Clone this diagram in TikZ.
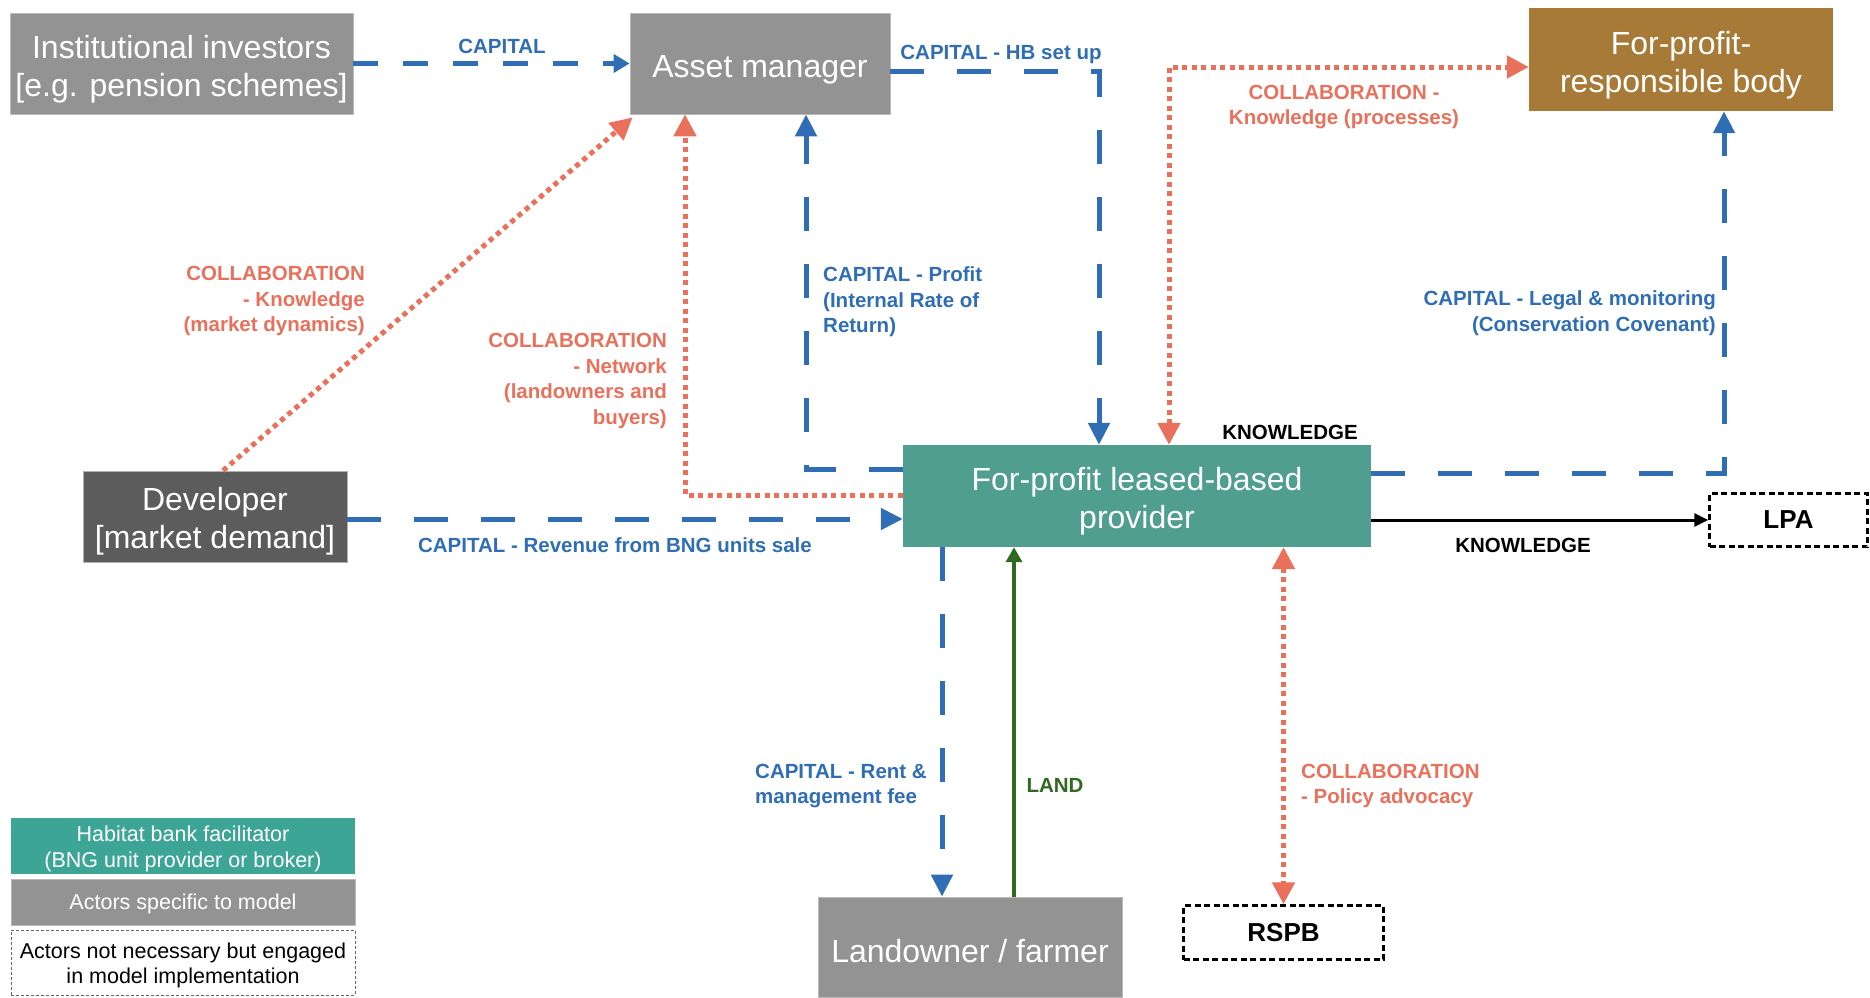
\documentclass[tikz,border=0pt]{standalone}
\usepackage{fontspec}
\setmainfont{Liberation Sans}
\usetikzlibrary{arrows.meta,calc}
\definecolor{cblue}{HTML}{2F6EB5}
\definecolor{cred}{HTML}{E9705A}
\definecolor{cgreen}{HTML}{2E6B20}
\definecolor{cgrey}{HTML}{939393}
\definecolor{cdark}{HTML}{5C5C5C}
\definecolor{cteal}{HTML}{4F9E90}
\definecolor{ctealb}{HTML}{3DA595}
\definecolor{cbrown}{HTML}{A77A37}
\newcommand\myboxfont{\fontsize{32}{38}\selectfont}
\newcommand\mylabfont{\fontsize{20.5}{25.5}\selectfont\bfseries}
\newcommand\mylegfont{\fontsize{21.5}{25.5}\selectfont}
\tikzset{
  box/.style={rectangle, inner sep=0pt},
  boxtxt/.style={inner sep=0pt, align=center, text=white, font=\myboxfont},
  legtxt/.style={inner sep=0pt, align=center, text=white, font=\mylegfont},
  greybox/.style={box, fill=cgrey, draw=gray!55, line width=0.8pt},
  dotbox/.style={rectangle, inner sep=0pt, align=center, text=black, font=\fontsize{26}{30}\selectfont\bfseries,
    draw=black, line width=2.5pt, dash pattern=on 6pt off 3.5pt},
  lab/.style={inner sep=0pt, font=\mylabfont},
  bdash/.style={draw=cblue, line width=5pt, dash pattern=on 34pt off 33pt, line join=miter},
  bdashs/.style={draw=cblue, line width=5pt, dash pattern=on 25pt off 25pt},
  rdot/.style={draw=cred, line width=5pt, dash pattern=on 5pt off 4.5pt},
  btip/.style={-{Triangle[width=21pt,length=22pt]}},
  bstip/.style={-{Triangle[width=18pt,length=16pt]}},
  rtip/.style={-{Triangle[width=22pt,length=22pt]}},
  rtips/.style={{Triangle[width=22pt,length=22pt]}-{Triangle[width=22pt,length=22pt]}},
  kline/.style={draw=black, line width=3pt, -{Triangle[width=13pt,length=14pt]}},
  gline/.style={draw=cgreen, line width=3.5pt, -{Triangle[width=16pt,length=15pt]}},
}
\begin{document}
\begin{tikzpicture}[x=1pt,y=-1pt]
\useasboundingbox (0,0) rectangle (1870,997);
% boxes
\node[greybox, minimum width=343pt, minimum height=101pt] (inst) at (181.5,63.5) {};
\node[boxtxt] (inst-t) at ($(inst.center)+(0,6)$) {Institutional investors\\{[e.g. pension schemes]}};
\node[greybox, minimum width=260pt, minimum height=101pt] (asset) at (760,63.5) {};
\node[boxtxt] (asset-t) at ($(asset.center)+(0,6)$) {Asset manager};
\node[box, fill=cbrown, minimum width=304pt, minimum height=103pt] (body) at (1681,59.5) {};
\node[boxtxt] (body-t) at ($(body.center)+(0,6)$) {For-profit-\\responsible body};
\node[box, fill=cdark, draw=gray!60, line width=0.8pt, minimum width=264pt, minimum height=91pt] (dev) at (215,516.5) {};
\node[boxtxt] (dev-t) at ($(dev.center)+(0,5)$) {Developer\\{[market demand]}};
\node[box, fill=cteal, minimum width=468pt, minimum height=102pt] (prov) at (1137,496) {};
\node[boxtxt] (prov-t) at ($(prov.center)+(0,5)$) {For-profit leased-based\\provider};
\node[dotbox, minimum width=158pt, minimum height=53pt] (lpa) at (1788.5,520) {LPA};
\node[greybox, minimum width=304pt, minimum height=100pt] (land) at (970,947) {};
\node[boxtxt] (land-t) at ($(land.center)+(0,4)$) {Landowner / farmer};
\node[dotbox, minimum width=200pt, minimum height=54pt] (rspb) at (1283.5,932.5) {RSPB};
% legend
\node[box, fill=ctealb, minimum width=344pt, minimum height=56pt] (leg1) at (183,846) {};
\node[legtxt] (leg1-t) at ($(leg1.center)+(0,3)$) {Habitat bank facilitator\\(BNG unit provider or broker)};
\node[greybox, minimum width=344pt, minimum height=46pt] (leg2) at (183,902) {};
\node[legtxt] (leg2-t) at ($(leg2.center)+(0,2)$) {Actors specific to model};
\node[box, draw=gray!80!black, line width=0.8pt, dash pattern=on 3pt off 2pt, minimum width=344pt, minimum height=65pt] (leg3) at (183,962.5) {};
\node[legtxt, text=black] (leg3-t) at ($(leg3.center)+(0,3)$) {Actors not necessary but engaged\\in model implementation};
% coordinates
\coordinate (hb) at (1099,71);
\coordinate (pf) at (806,469);
\coordinate (nw) at (685,495);
\coordinate (dv) at (0,519);
\coordinate (kc) at (1169,67);
\coordinate (lg) at (1724,473);
\coordinate (rt) at (942,0);
\coordinate (ld) at (1014,0);
% connectors
\draw[bdashs, bstip] (inst.east) -- (asset.west);
\draw[bdash, btip] (asset.east |- hb) -- (hb) -- (hb |- prov.north);
\draw[bdash, btip] (prov.west |- pf) -- (pf) -- (pf |- asset.south);
\draw[rdot, rtip] (prov.west |- nw) -- (nw) -- (nw |- asset.south);
\draw[rdot, rtip] ($(dev.north)+(8,0)$) -- ($(asset.south west)+(3,3)$);
\draw[bdash, btip] (dev.east |- dv) -- (prov.west |- dv);
\draw[rdot, rtips] (prov.north -| kc) -- (kc) -- (kc -| body.west);
\draw[bdash, btip] (prov.east |- lg) -- (lg) -- (lg |- body.south);
\draw[kline] (prov.east |- lpa) -- (lpa.west);
\draw[bdash, btip] (prov.south -| rt) -- (land.north -| rt);
\draw[gline] (land.north -| ld) -- (prov.south -| ld);
\draw[rdot, rtips] (prov.south -| rspb) -- (rspb.north);
% labels
\node[lab, text=cblue] (l1) at (502,46) {CAPITAL};
\node[lab, text=cblue] (l2) at (1001,54) {CAPITAL - HB set up};
\node[lab, text=cblue, anchor=west, align=left] (l3) at (823,302) {CAPITAL - Profit\\(Internal Rate of\\Return)};
\node[lab, text=cred, anchor=east, align=right] (l4) at (667,381) {COLLABORATION\\- Network\\(landowners and\\buyers)};
\node[lab, text=cred, anchor=east, align=right] (l5) at (365,301) {COLLABORATION\\- Knowledge\\(market dynamics)};
\node[lab, text=cblue] (l6) at (615,545) {CAPITAL - Revenue from BNG units sale};
\node[lab, text=cred, align=center] (l7) at (1344,107) {COLLABORATION -\\Knowledge (processes)};
\node[lab, text=cblue, anchor=east, align=right] (l8) at (1716,313) {CAPITAL - Legal \& monitoring\\(Conservation Covenant)};
\node[lab, text=black] (l9) at (1290,432) {KNOWLEDGE};
\node[lab, text=black] (l10) at (1523,545) {KNOWLEDGE};
\node[lab, text=cblue, anchor=west, align=left] (l11) at (755,786) {CAPITAL - Rent \&\\management fee};
\node[lab, text=cgreen] (l12) at (1055,785) {LAND};
\node[lab, text=cred, anchor=west, align=left] (l13) at (1301,786) {COLLABORATION\\- Policy advocacy};
\end{tikzpicture}
\end{document}
